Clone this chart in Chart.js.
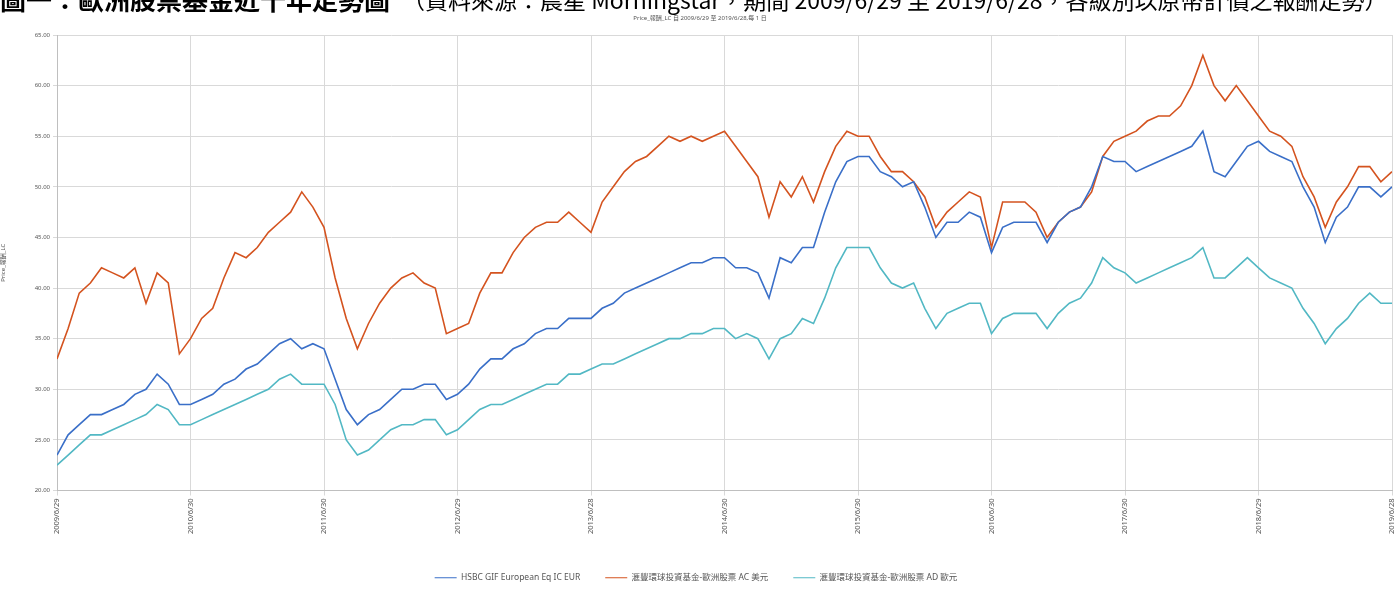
<!DOCTYPE html>
<html>
<head>
<meta charset="utf-8">
<script src="https://cdn.jsdelivr.net/npm/chart.js@4.4.1/dist/chart.umd.min.js"></script>
<style>
  html, body { margin: 0; padding: 0; background: #fff; }
  #wrap { position: relative; width: 1394px; height: 601px; }
</style>
</head>
<body>
<div id="wrap"><canvas id="price-chart"></canvas></div>
<script>
    "use strict";

    // Tick labels on the date axis (one per year, every 12 months)
    var tickLabels = ["2009/6/29", "2010/6/30", "2011/6/30", "2012/6/29", "2013/6/28", "2014/6/30",
        "2015/6/30", "2016/6/30", "2017/6/30", "2018/6/29", "2019/6/28"];

    // Month-end prices, 2009/6 .. 2019/6 (121 points)
    var hsbcIcEur = [23.5, 25.5, 26.5, 27.5, 27.5, 28, 28.5, 29.5, 30, 31.5, 30.5, 28.5,
        28.5, 29, 29.5, 30.5, 31, 32, 32.5, 33.5, 34.5, 35, 34, 34.5,
        34, 31, 28, 26.5, 27.5, 28, 29, 30, 30, 30.5, 30.5, 29,
        29.5, 30.5, 32, 33, 33, 34, 34.5, 35.5, 36, 36, 37, 37,
        37, 38, 38.5, 39.5, 40, 40.5, 41, 41.5, 42, 42.5, 42.5, 43,
        43, 42, 42, 41.5, 39, 43, 42.5, 44, 44, 47.5, 50.5, 52.5,
        53, 53, 51.5, 51, 50, 50.5, 48, 45, 46.5, 46.5, 47.5, 47,
        43.5, 46, 46.5, 46.5, 46.5, 44.5, 46.5, 47.5, 48, 50, 53, 52.5,
        52.5, 51.5, 52, 52.5, 53, 53.5, 54, 55.5, 51.5, 51, 52.5, 54,
        54.5, 53.5, 53, 52.5, 50, 48, 44.5, 47, 48, 50, 50, 49,
        50];

    var hsbcAcUsd = [33, 36, 39.5, 40.5, 42, 41.5, 41, 42, 38.5, 41.5, 40.5, 33.5,
        35, 37, 38, 41, 43.5, 43, 44, 45.5, 46.5, 47.5, 49.5, 48,
        46, 41, 37, 34, 36.5, 38.5, 40, 41, 41.5, 40.5, 40, 35.5,
        36, 36.5, 39.5, 41.5, 41.5, 43.5, 45, 46, 46.5, 46.5, 47.5, 46.5,
        45.5, 48.5, 50, 51.5, 52.5, 53, 54, 55, 54.5, 55, 54.5, 55,
        55.5, 54, 52.5, 51, 47, 50.5, 49, 51, 48.5, 51.5, 54, 55.5,
        55, 55, 53, 51.5, 51.5, 50.5, 49, 46, 47.5, 48.5, 49.5, 49,
        44, 48.5, 48.5, 48.5, 47.5, 45, 46.5, 47.5, 48, 49.5, 53, 54.5,
        55, 55.5, 56.5, 57, 57, 58, 60, 63, 60, 58.5, 60, 58.5,
        57, 55.5, 55, 54, 51, 49, 46, 48.5, 50, 52, 52, 50.5,
        51.5];

    var hsbcAdEur = [22.5, 23.5, 24.5, 25.5, 25.5, 26, 26.5, 27, 27.5, 28.5, 28, 26.5,
        26.5, 27, 27.5, 28, 28.5, 29, 29.5, 30, 31, 31.5, 30.5, 30.5,
        30.5, 28.5, 25, 23.5, 24, 25, 26, 26.5, 26.5, 27, 27, 25.5,
        26, 27, 28, 28.5, 28.5, 29, 29.5, 30, 30.5, 30.5, 31.5, 31.5,
        32, 32.5, 32.5, 33, 33.5, 34, 34.5, 35, 35, 35.5, 35.5, 36,
        36, 35, 35.5, 35, 33, 35, 35.5, 37, 36.5, 39, 42, 44,
        44, 44, 42, 40.5, 40, 40.5, 38, 36, 37.5, 38, 38.5, 38.5,
        35.5, 37, 37.5, 37.5, 37.5, 36, 37.5, 38.5, 39, 40.5, 43, 42,
        41.5, 40.5, 41, 41.5, 42, 42.5, 43, 44, 41, 41, 42, 43,
        42, 41, 40.5, 40, 38, 36.5, 34.5, 36, 37, 38.5, 39.5, 38.5,
        38.5];

    var seriesNames = ["HSBC GIF European Eq IC EUR", "滙豐環球投資基金-歐洲股票 AC 美元", "滙豐環球投資基金-歐洲股票 AD 歐元"];

    var FONT = "'Noto Sans', 'Noto Sans CJK TC', sans-serif";

    function toPoints(arr) {
        return arr.map(function (v, i) { return {x: i, y: v}; });
    }

    // Headings above the plot
    var headings = {
        id: "headings",
        afterDraw: function (chart) {
            var ctx = chart.ctx;
            ctx.save();
            ctx.fillStyle = "#000";
            ctx.textBaseline = "alphabetic";
            ctx.textAlign = "left";
            ctx.font = "bold 26px 'Noto Sans CJK TC'";
            ctx.fillText("圖一：歐洲股票基金近十年走勢圖", 0, 10);
            ctx.font = "23px 'Noto Sans CJK TC'";
            ctx.fillText("（資料來源：晨星 Morningstar，期間 2009/6/29 至 2019/6/28，各級別以原幣計價之報酬走勢）", 402, 9);
            ctx.fillStyle = "#555";
            ctx.font = "6px " + FONT;
            ctx.textAlign = "center";
            ctx.fillText("Price_報酬_LC 自 2009/6/29 至 2019/6/28,每 1 日", 700, 20);
            ctx.restore();
        }
    };

    var ctx1 = document.getElementById("price-chart").getContext("2d");
    var myChart1 = new Chart(ctx1, {
        type: "line",
        data: {
            datasets: [{
                    label: seriesNames[0],
                    data: toPoints(hsbcIcEur),
                    borderColor: "#3A6FC8",
                    backgroundColor: "#3A6FC8"
                },
                {
                    label: seriesNames[1],
                    data: toPoints(hsbcAcUsd),
                    borderColor: "#D4531F",
                    backgroundColor: "#D4531F"
                },
                {
                    label: seriesNames[2],
                    data: toPoints(hsbcAdEur),
                    borderColor: "#52B8C4",
                    backgroundColor: "#52B8C4"
                }
            ]
        },
        options: {
            responsive: true,
            maintainAspectRatio: false,
            animation: false,
            layout: {padding: {top: 35, right: 2, left: 0, bottom: 9}},
            elements: {
                point: {radius: 0},
                line: {borderWidth: 1.6, tension: 0}
            },
            plugins: {
                tooltip: {enabled: false},
                legend: {
                    position: "bottom",
                    labels: {
                        usePointStyle: true,
                        pointStyle: "line",
                        pointStyleWidth: 22,
                        boxHeight: 8,
                        padding: 25,
                        color: "#555",
                        font: {family: FONT, size: 8.5}
                    }
                }
            },
            scales: {
                x: {
                    type: "linear",
                    min: 0,
                    max: 120,
                    afterBuildTicks: function (scale) {
                        scale.ticks = tickLabels.map(function (t, i) { return {value: i * 12}; });
                    },
                    afterFit: function (scale) {
                        scale.height = 58;
                        scale.paddingRight = 0;
                    },
                    ticks: {
                        minRotation: 90,
                        maxRotation: 90,
                        autoSkip: false,
                        color: "#555",
                        font: {family: FONT, size: 7.5},
                        callback: function (v) { return tickLabels[Math.round(v / 12)]; }
                    },
                    grid: {color: "#D9D9D9", tickLength: 5},
                    border: {color: "#BFBFBF"}
                },
                y: {
                    min: 20,
                    max: 65,
                    afterFit: function (scale) { scale.width = 57; },
                    ticks: {
                        stepSize: 5,
                        color: "#555",
                        font: {family: FONT, size: 6},
                        callback: function (v) { return v.toFixed(2); }
                    },
                    title: {
                        display: true,
                        text: "Price_報酬_LC",
                        color: "#555",
                        font: {family: FONT, size: 6},
                        padding: 0
                    },
                    grid: {color: "#D9D9D9", tickLength: 4},
                    border: {color: "#BFBFBF"}
                }
            }
        },
        plugins: [headings]
    });
</script>
</body>
</html>
